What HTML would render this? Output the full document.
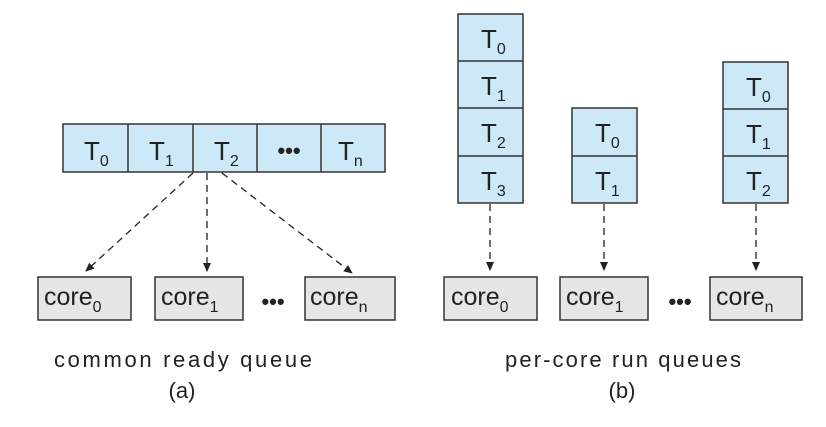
<!DOCTYPE html>
<html><head><meta charset="utf-8"><style>
html,body{margin:0;padding:0;background:#fff;}
svg{display:block;}
text{font-family:"Liberation Sans",sans-serif;fill:#222;}
</style></head><body>
<svg width="826" height="427" viewBox="0 0 826 427" xmlns="http://www.w3.org/2000/svg">
<defs>
<marker id="ah" markerWidth="10" markerHeight="10" refX="8" refY="5" orient="auto" markerUnits="userSpaceOnUse">
<path d="M0,1 L9,5 L0,9 Z" fill="#222"/>
</marker>
</defs>
<g stroke="#333" stroke-width="1.5" fill="#cde9f8">
<rect x="63" y="124" width="322" height="48"/>
<line x1="128" y1="124" x2="128" y2="172"/><line x1="193" y1="124" x2="193" y2="172"/>
<line x1="257" y1="124" x2="257" y2="172"/><line x1="321" y1="124" x2="321" y2="172"/>
<rect x="458" y="14" width="65" height="189"/>
<line x1="458" y1="61" x2="523" y2="61"/><line x1="458" y1="108" x2="523" y2="108"/><line x1="458" y1="156" x2="523" y2="156"/>
<rect x="572" y="108" width="65" height="95"/>
<line x1="572" y1="156" x2="637" y2="156"/>
<rect x="723" y="62" width="65" height="141"/>
<line x1="723" y1="109" x2="788" y2="109"/><line x1="723" y1="156" x2="788" y2="156"/>
</g>
<g stroke="#333" stroke-width="1.5" fill="#e6e6e6">
<rect x="38" y="277" width="93" height="43"/>
<rect x="155" y="277" width="88" height="43"/>
<rect x="305" y="277" width="90" height="43"/>
<rect x="444" y="277" width="93" height="43"/>
<rect x="560" y="277" width="88" height="43"/>
<rect x="710" y="277" width="92" height="43"/>
</g>
<g stroke="#222" stroke-width="1.3" stroke-dasharray="7,5" fill="none" marker-end="url(#ah)">
<line x1="193" y1="173" x2="86" y2="271"/>
<line x1="207" y1="173" x2="207" y2="271"/>
<line x1="222" y1="173" x2="352" y2="273"/>
<line x1="490" y1="204" x2="490" y2="270"/>
<line x1="604" y1="204" x2="604" y2="270"/>
<line x1="756" y1="204" x2="756" y2="270"/>
</g>
<g font-size="26">
<text x="84" y="160">T<tspan font-size="16" dy="6">0</tspan></text>
<text x="149" y="160">T<tspan font-size="16" dy="6">1</tspan></text>
<text x="214" y="160">T<tspan font-size="16" dy="6">2</tspan></text>
<text x="338" y="160">T<tspan font-size="16" dy="6">n</tspan></text>
<text x="289" y="158" text-anchor="middle" font-weight="bold" font-size="22">•••</text>
<text x="481" y="48">T<tspan font-size="16" dy="6">0</tspan></text>
<text x="481" y="95">T<tspan font-size="16" dy="6">1</tspan></text>
<text x="481" y="142">T<tspan font-size="16" dy="6">2</tspan></text>
<text x="481" y="190">T<tspan font-size="16" dy="6">3</tspan></text>
<text x="595" y="142">T<tspan font-size="16" dy="6">0</tspan></text>
<text x="595" y="190">T<tspan font-size="16" dy="6">1</tspan></text>
<text x="746" y="96">T<tspan font-size="16" dy="6">0</tspan></text>
<text x="746" y="143">T<tspan font-size="16" dy="6">1</tspan></text>
<text x="746" y="190">T<tspan font-size="16" dy="6">2</tspan></text>
</g>
<g font-size="25">
<text x="44" y="305">core<tspan font-size="16" dy="7">0</tspan></text>
<text x="161" y="305">core<tspan font-size="16" dy="7">1</tspan></text>
<text x="310" y="305">core<tspan font-size="16" dy="7">n</tspan></text>
<text x="451" y="305">core<tspan font-size="16" dy="7">0</tspan></text>
<text x="566" y="305">core<tspan font-size="16" dy="7">1</tspan></text>
<text x="716" y="305">core<tspan font-size="16" dy="7">n</tspan></text>
<text x="273" y="309" text-anchor="middle" font-weight="bold" font-size="22">•••</text>
<text x="680" y="309" text-anchor="middle" font-weight="bold" font-size="22">•••</text>
</g>
<g font-size="22" text-anchor="middle">
<text x="183" y="367" textLength="258">common ready queue</text>
<text x="182" y="398">(a)</text>
<text x="623" y="367" textLength="236">per-core run queues</text>
<text x="622" y="398">(b)</text>
</g>
</svg>
</body></html>
